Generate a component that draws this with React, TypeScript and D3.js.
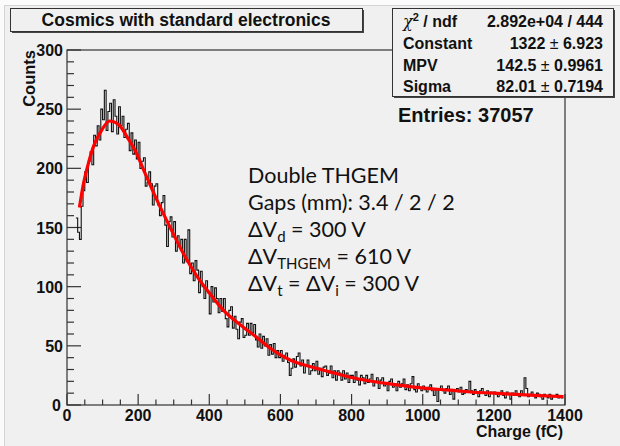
import * as d3 from 'd3';
import React from 'react';

// histogram bins, 5 fC wide, first bin starts at 25 fC
const binWidth = 5;
const firstBin = 25;
const counts25to195 = [158, 146, 140, 168, 181, 197, 188, 206, 214, 203, 228, 219, 236, 224, 250, 241, 266, 232, 248, 255, 231, 258, 244, 229, 252, 236, 244, 226, 233, 238, 215, 230, 212, 224, 208];
const counts200to395 = [222, 200, 206, 209, 185, 188, 197, 187, 169, 185, 187, 169, 160, 171, 177, 152, 134, 155, 159, 142, 155, 130, 143, 134, 140, 120, 140, 121, 148, 111, 120, 105, 122, 114, 95, 113, 100, 90, 105, 95];
const counts400to595 = [77, 100, 87, 99, 90, 78, 90, 79, 90, 73, 66, 80, 83, 65, 75, 64, 56, 70, 73, 57, 59, 69, 59, 69, 61, 68, 55, 49, 60, 48, 58, 50, 56, 42, 51, 43, 52, 40, 46, 40];
const counts600to795 = [46, 37, 42, 44, 36, 25, 31, 39, 32, 41, 44, 33, 38, 27, 34, 38, 26, 29, 35, 29, 37, 26, 31, 24, 32, 33, 25, 27, 33, 23, 29, 21, 29, 27, 21, 29, 22, 27, 19, 25];
const counts800to995 = [25, 19, 28, 21, 17, 25, 23, 18, 25, 19, 22, 26, 16, 19, 23, 14, 21, 23, 16, 19, 12, 20, 22, 15, 18, 12, 20, 15, 18, 22, 13, 17, 12, 18, 24, 13, 11, 18, 14, 12];
const counts1000to1195 = [16, 13, 11, 15, 17, 12, 8, 14, 3, 13, 16, 12, 10, 14, 16, 9, 13, 5, 12, 14, 11, 15, 9, 10, 13, 11, 20, 12, 9, 13, 11, 7, 12, 14, 10, 8, 12, 7, 11, 10];
const counts1200to1390 = [11, 9, 7, 10, 12, 8, 6, 11, 9, 5, 10, 8, 12, 9, 7, 12, 8, 23, 14, 7, 9, 11, 8, 6, 10, 9, 7, 5, 9, 8, 6, 9, 5, 8, 7, 9, 6, 8, 6];

// landau fit
const fitCharge = [35, 45, 60, 75, 95, 120, 145, 170, 195, 215, 250, 290, 327, 365, 402, 440, 486, 538, 571, 627, 683, 739, 796, 852, 908, 964, 1020, 1077, 1133, 1200, 1262, 1330, 1396];
const fitCounts = [167, 185, 204, 219, 231, 240, 237, 226, 213, 199, 175, 150, 128, 109, 94, 80, 68, 56, 48, 38, 32.5, 28, 23.5, 20.3, 17.8, 15.5, 13.8, 12.5, 11, 10, 9, 8, 7];

const xTickLabels = ['0', '200', '400', '600', '800', '1000', '1200', '1400'];
const yTickLabels = ['0', '50', '100', '150', '200', '250', '300'];

const statNames = ['Constant', 'MPV', 'Sigma'];
const statValues = ['1322', '142.5', '82.01'];
const statErrors = ['6.923', '0.9961', '0.7194'];

const W = 620;
const H = 446;
const font = '"Liberation Sans", Arial, sans-serif';
const noteFont = 'Lato, "Open Sans", sans-serif';

export default function App() {
  const x = d3.scaleLinear().domain([0, 1400]).range([67, 565]);
  const y = d3.scaleLinear().domain([0, 300]).range([405, 50]);

  const counts = [
    ...counts25to195, ...counts200to395, ...counts400to595, ...counts600to795,
    ...counts800to995, ...counts1000to1195, ...counts1200to1390,
  ];
  const steps: [number, number][] = counts.map((c, i) => [firstBin + i * binWidth, c]);
  steps.push([firstBin + counts.length * binWidth, counts[counts.length - 1]]);

  const histLine = d3.line<[number, number]>()
    .x(d => x(d[0]))
    .y(d => y(d[1]))
    .curve(d3.curveStepAfter);

  const fitLine = d3.line<number>()
    .x((_, i) => x(fitCharge[i]))
    .y(d => y(d))
    .curve(d3.curveMonotoneX);

  const yMinor = d3.range(0, 301, 10);
  const xMinor = d3.range(0, 1401, 50);

  return (
    <svg width={W} height={H} style={{ position: 'absolute', left: 0, top: 0 }} fontFamily={font}>
      <rect width={W} height={H} fill="#fbfbfb" />
      <rect x={4.5} y={5.5} width={W - 4} height={H - 5} fill="#f0f0f0" stroke="#d4d4d4" />

      <defs>
        <clipPath id="plot">
          <rect x={67} y={50} width={498} height={355} />
        </clipPath>
      </defs>

      {/* frame */}
      <rect x={67} y={50} width={498} height={355} fill="none" stroke="#333" strokeWidth={1.2} />

      {/* y ticks */}
      {yMinor.map(v => (
        <line key={'yt' + v} x1={67} x2={67 + (v % 50 === 0 ? 14 : 7)} y1={y(v)} y2={y(v)} stroke="#333" strokeWidth={1.2} />
      ))}
      {/* x ticks */}
      {xMinor.map(v => (
        <line key={'xt' + v} y1={405} y2={405 - (v % 200 === 0 ? 11 : 5.5)} x1={x(v)} x2={x(v)} stroke="#333" strokeWidth={1.2} />
      ))}

      {yTickLabels.map(t => (
        <text key={'yl' + t} x={t === '0' ? 61 : 63} y={y(+t) + 6} textAnchor="end" fontSize={16} fontWeight="bold" fill="#111">{t}</text>
      ))}
      {xTickLabels.map(t => (
        <text key={'xl' + t} x={x(+t)} y={421} textAnchor="middle" fontSize={16} fontWeight="bold" fill="#111">{t}</text>
      ))}

      <text transform="translate(35,50) rotate(-90)" textAnchor="end" fontSize={16.5} fontWeight="bold" fill="#111">Counts</text>
      <text x={563} y={437} textAnchor="end" fontSize={16} fontWeight="bold" fill="#111">Charge (fC)</text>

      <g clipPath="url(#plot)">
        <path d={histLine(steps) ?? ''} fill="none" stroke="#111" strokeWidth={1.1} />
        <path d={fitLine(fitCounts) ?? ''} fill="none" stroke="#ff0000" strokeWidth={3.2} />
      </g>

      {/* title */}
      <rect x={12} y={10} width={352} height={23} fill="#444" />
      <rect x={10.5} y={8.5} width={352} height={23} fill="#f0f0f0" stroke="#333" />
      <text x={186} y={26} textAnchor="middle" fontSize={17.5} fontWeight="bold" fill="#111">Cosmics with standard electronics</text>

      {/* stats box */}
      <rect x={394} y={10} width={221} height={88} fill="#444" />
      <rect x={392.5} y={8.5} width={221} height={88} fill="#f0f0f0" stroke="#333" />
      <text x={403} y={27} fontSize={16} fontWeight="bold" fill="#111">
        <tspan fontFamily="'DejaVu Serif', serif" fontWeight="normal" fontStyle="italic">χ</tspan>
        <tspan dy={-6} fontSize={11}>2</tspan>
        <tspan dy={6}> / ndf</tspan>
      </text>
      <text x={603} y={27} textAnchor="end" fontSize={16} fontWeight="bold" fill="#111">2.892e+04 / 444</text>
      {statNames.map((n, i) => (
        <g key={n}>
          <text x={403} y={49 + i * 21.5} fontSize={16} fontWeight="bold" fill="#111">{n}</text>
          <text x={603} y={49 + i * 21.5} textAnchor="end" fontSize={16} fontWeight="bold" fill="#111">
            {statValues[i]}
            <tspan fontWeight="normal">{' \u00b1 '}</tspan>
            {statErrors[i]}
          </text>
        </g>
      ))}

      <text x={398} y={122} fontSize={20} fontWeight="bold" fill="#111">Entries: 37057</text>

      {/* annotation */}
      <g fontFamily={noteFont} fontSize={21.5} fill="#111">
        <text x={248} y={183}>Double THGEM</text>
        <text x={248} y={210}>Gaps (mm): 3.4 / 2 / 2</text>
        <text x={248} y={237}>ΔV<tspan dy={5} fontSize={15}>d</tspan><tspan dy={-5}> = 300 V</tspan></text>
        <text x={248} y={264}>ΔV<tspan dy={5} fontSize={15}>THGEM</tspan><tspan dy={-5}> = 610 V</tspan></text>
        <text x={248} y={291}>ΔV<tspan dy={5} fontSize={15}>t</tspan><tspan dy={-5}> = ΔV</tspan><tspan dy={5} fontSize={15}>i</tspan><tspan dy={-5}> = 300 V</tspan></text>
      </g>
    </svg>
  );
}
